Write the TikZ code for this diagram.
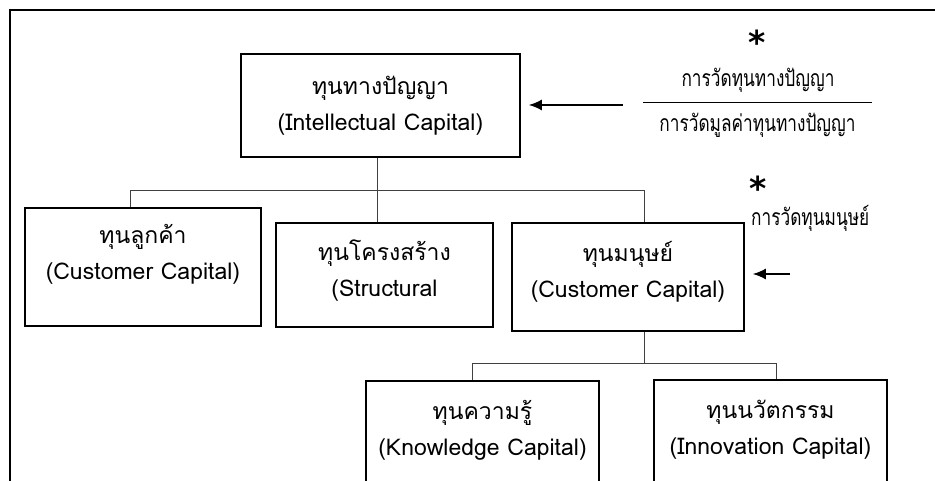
\documentclass[tikz,border=0pt]{standalone}
\usepackage{fontspec}
\usetikzlibrary{arrows.meta}
\setmainfont{Loma}[Script=Thai]
\newfontfamily\notefont[Script=Thai,FakeStretch=0.75]{Loma}
\newfontfamily\starfont{DejaVu Sans}
\begin{document}
\begin{tikzpicture}[x = 1pt, y = -1pt,
    box/.style = {draw, line width = 1.6pt, inner sep = 0pt},
    lbl/.style = {align = center, font = \fontsize{23}{36}\selectfont},
    note/.style = {font = \notefont\fontsize{23}{26}\selectfont, inner sep = 1pt},
    star/.style = {font = \starfont\bfseries\fontsize{33}{33}\selectfont, inner sep = 0pt},
    branch/.style = {draw = black!75, line width = 0.8pt},
    pointer/.style = {-{Latex[length = 13pt, width = 11pt]}, line width = 1.7pt}]
        \useasboundingbox (0, 0) rectangle (935, 481);
        \clip (0, 0) rectangle (935, 481);
        \draw[line width = 2pt] (935, 10.5) -- (10, 10.5) -- (10, 490);

        % boxes
        \node[box, minimum width = 279, minimum height = 103] (ic) at (380.5, 105.5) {};
        \node[box, minimum width = 236, minimum height = 118] (cust) at (143, 267) {};
        \node[box, minimum width = 217, minimum height = 104] (struct) at (384.5, 275) {};
        \node[box, minimum width = 232, minimum height = 108] (human) at (628, 277) {};
        \node[box, minimum width = 233, minimum height = 140] (know) at (482.5, 451) {};
        \node[box, minimum width = 233, minimum height = 140] (innov) at (770.5, 450) {};

        \node[lbl] (ic-t) at (380.5, 106) {ทุนทางปัญญา\\(Intellectual Capital)};
        \node[lbl] (cust-t) at (143, 254) {ทุนลูกค้า\\(Customer Capital)};
        \node[lbl] (struct-t) at (384.5, 271) {ทุนโครงสร้าง\\(Structural};
        \node[lbl] (human-t) at (628, 272) {ทุนมนุษย์\\(Customer Capital)};
        \node[lbl] (know-t) at (482.5, 430) {ทุนความรู้\\(Knowledge Capital)};
        \node[lbl] (innov-t) at (770.5, 430) {ทุนนวัตกรรม\\(Innovation Capital)};

        % tree lines
        \coordinate (hub1) at (377, 190);
        \coordinate (b1l) at (130, 190);
        \coordinate (b1r) at (644, 190);
        \coordinate (b2l) at (472, 363);
        \coordinate (b2r) at (776, 363);
        \draw[branch] (ic.south -| hub1) -- (hub1 |- struct.north);
        \draw[branch] (b1l |- cust.north) -- (b1l) -- (b1r) -- (b1r |- human.north);
        \draw[branch] (human.south -| b1r) -- (b1r |- b2l);
        \draw[branch] (b2l |- know.north) -- (b2l) -- (b2r) -- (b2r |- innov.north);

        % measurement notes
        \node[star] (s1) at (757, 42) {*};
        \node[note] (num) at (758, 80) {การวัดทุนทางปัญญา};
        \node[note] (den) at (757.5, 125) {การวัดมูลค่าทุนทางปัญญา};
        \draw[line width = 0.8pt] (643, 102) -- (872, 102);
        \node[star] (s2) at (758, 188) {*};
        \node[note, anchor = west] (hm) at (750, 218) {การวัดทุนมนุษย์};

        \coordinate (a1) at (623, 105);
        \coordinate (a2) at (790, 274);
        \draw[pointer] (a1) -- ([xshift = 8pt]ic.east |- a1);
        \draw[pointer] (a2) -- ([xshift = 8pt]human.east |- a2);
      \end{tikzpicture}
\end{document}
